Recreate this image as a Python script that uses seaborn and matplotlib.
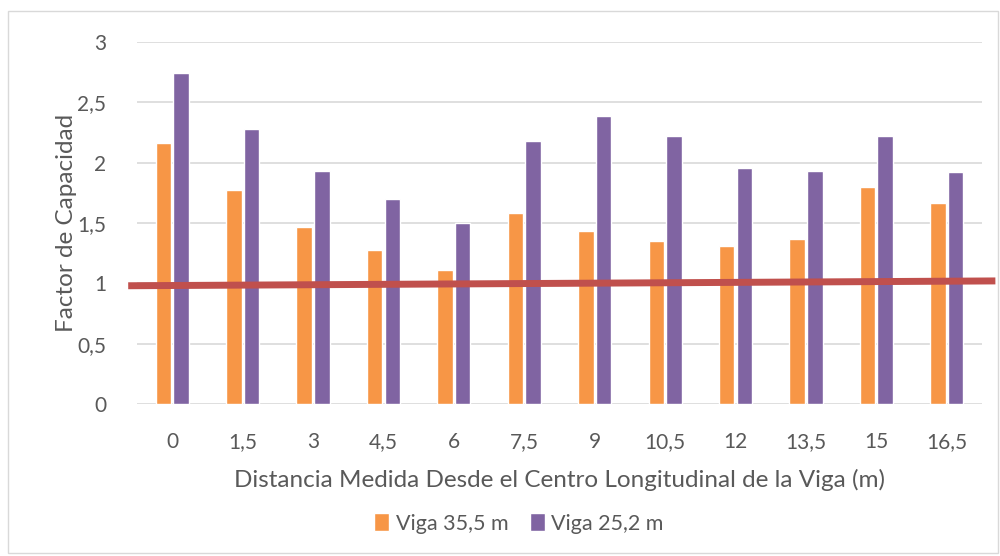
import pandas as pd
import matplotlib.pyplot as plt
import seaborn as sns
from matplotlib.patches import Rectangle

# Data
distancias = ["0", "1,5", "3", "4,5", "6", "7,5", "9", "10,5", "12", "13,5", "15", "16,5"]
viga_35 = [2.16, 1.77, 1.47, 1.28, 1.11, 1.58, 1.43, 1.35, 1.31, 1.37, 1.80, 1.67]
viga_25 = [2.74, 2.28, 1.93, 1.70, 1.50, 2.18, 2.39, 2.22, 1.96, 1.93, 2.22, 1.92]
series = ["Viga 35,5 m", "Viga 25,2 m"]
# red reference line (x in category units, y in data units)
linea_x = [-0.625, 11.69]
linea_y = [0.98, 1.02]

df = pd.DataFrame({
    "Distancia": distancias * 2,
    "Factor": viga_35 + viga_25,
    "Serie": [series[0]] * len(distancias) + [series[1]] * len(distancias),
})

sns.set_theme(style="white")
plt.rcParams['font.family'] = ['Lato', 'DejaVu Sans']
gris = "#595959"

fig = plt.figure(figsize=(10, 5.56), dpi=100)
ax = fig.add_axes([0.137, 0.2734, 0.845, 0.651])

sns.barplot(data=df, x="Distancia", y="Factor", hue="Serie", order=distancias,
            hue_order=series, palette=["#F79646", "#8064A2"], saturation=1,
            width=0.5, gap=0.12, ax=ax, zorder=2, legend=True)

ax.plot(linea_x, linea_y, color="#C0504D", lw=5, zorder=3, clip_on=False,
        solid_capstyle="butt")

ax.set_xlim(-0.5, 11.5)
ax.set_ylim(0, 3)
ax.set_yticks([0, 0.5, 1, 1.5, 2, 2.5, 3])
ax.set_yticklabels(["0", "0,5", "1", "1,5", "2", "2,5", "3"])
ax.yaxis.grid(True, color="#D9D9D9", lw=1.2, zorder=0)
ax.set_axisbelow(True)
for s in ax.spines.values():
    s.set_visible(False)
ax.tick_params(axis="both", length=0, labelsize=15, labelcolor=gris)
ax.tick_params(axis="x", pad=20)
ax.tick_params(axis="y", pad=22)

ax.set_xlabel("Distancia Medida Desde el Centro Longitudinal de la Viga (m)",
              fontsize=17.5, color=gris, labelpad=12)
ax.set_ylabel("Factor de Capacidad", fontsize=17.5, color=gris, labelpad=0)

ax.legend(loc="center", bbox_to_anchor=(0.452, -0.33), ncol=2, frameon=False,
          fontsize=15.5, labelcolor=gris, handlelength=0.7, handleheight=0.9,
          handletextpad=0.3, columnspacing=1.0)

fig.patches.append(Rectangle((0.008, 0.005), 0.99, 0.975, transform=fig.transFigure,
                             fill=False, edgecolor="#D9D9D9", lw=1))

fig.savefig("out.png", dpi=100)
